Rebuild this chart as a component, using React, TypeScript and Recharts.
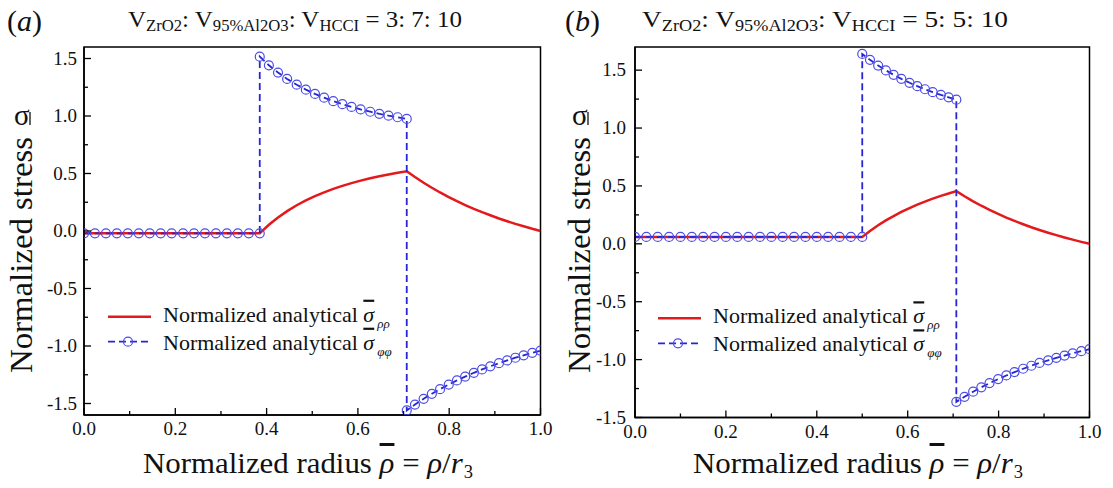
import React from "react"
import { LineChart, Line, XAxis, YAxis, ReferenceArea } from "recharts"

// panel (a): V_ZrO2 : V_95%Al2O3 : V_HCCI = 3 : 7 : 10
const rhoA = [
  0, 0.024, 0.048, 0.072, 0.096, 0.12, 0.144, 0.168, 0.192, 0.217, 0.241, 0.265, 0.289, 0.313, 0.337, 0.361, 0.385,
  0.385, 0.405, 0.425, 0.445, 0.466, 0.486, 0.506, 0.526, 0.546, 0.566, 0.586, 0.606, 0.627, 0.647, 0.667, 0.687, 0.707,
  0.707, 0.725, 0.744, 0.762, 0.78, 0.799, 0.817, 0.835, 0.854, 0.872, 0.89, 0.909, 0.927, 0.945, 0.963, 0.982, 1.0,
]
const sigmaRRA = [
  -0.02, -0.02, -0.02, -0.02, -0.02, -0.02, -0.02, -0.02, -0.02, -0.02, -0.02, -0.02, -0.02, -0.02, -0.02, -0.02, -0.02,
  -0.02, 0.054, 0.118, 0.173, 0.224, 0.266, 0.303, 0.336, 0.366, 0.392, 0.416, 0.438, 0.458, 0.476, 0.492, 0.507, 0.52,
  0.52, 0.469, 0.419, 0.376, 0.335, 0.295, 0.259, 0.226, 0.193, 0.164, 0.137, 0.109, 0.085, 0.062, 0.041, 0.019, 0,
]
const sigmaPPA = [
  -0.02, -0.02, -0.02, -0.02, -0.02, -0.02, -0.02, -0.02, -0.02, -0.02, -0.02, -0.02, -0.02, -0.02, -0.02, -0.02, -0.02,
  1.516, 1.441, 1.378, 1.322, 1.272, 1.229, 1.192, 1.159, 1.129, 1.103, 1.079, 1.057, 1.037, 1.019, 1.003, 0.989, 0.975,
  -1.56, -1.509, -1.459, -1.416, -1.375, -1.335, -1.299, -1.266, -1.233, -1.204, -1.177, -1.149, -1.125, -1.102, -1.081, -1.059, -1.04,
]

// panel (b): V_ZrO2 : V_95%Al2O3 : V_HCCI = 5 : 5 : 10
const rhoB = [
  0, 0.025, 0.05, 0.075, 0.1, 0.125, 0.15, 0.175, 0.2, 0.225, 0.25, 0.275, 0.3, 0.325, 0.35, 0.375, 0.4, 0.425, 0.45, 0.475, 0.5,
  0.5, 0.517, 0.535, 0.552, 0.569, 0.586, 0.604, 0.621, 0.638, 0.655, 0.673, 0.69, 0.707,
  0.707, 0.725, 0.744, 0.762, 0.78, 0.799, 0.817, 0.835, 0.854, 0.872, 0.89, 0.909, 0.927, 0.945, 0.963, 0.982, 1.0,
]
const sigmaRRB = [
  0.06, 0.06, 0.06, 0.06, 0.06, 0.06, 0.06, 0.06, 0.06, 0.06, 0.06, 0.06, 0.06, 0.06, 0.06, 0.06, 0.06, 0.06, 0.06, 0.06, 0.06,
  0.06, 0.111, 0.16, 0.202, 0.24, 0.275, 0.309, 0.338, 0.365, 0.39, 0.414, 0.435, 0.455,
  0.455, 0.411, 0.367, 0.329, 0.293, 0.258, 0.227, 0.198, 0.169, 0.143, 0.119, 0.096, 0.075, 0.055, 0.036, 0.017, 0,
]
const sigmaPPB = [
  0.06, 0.06, 0.06, 0.06, 0.06, 0.06, 0.06, 0.06, 0.06, 0.06, 0.06, 0.06, 0.06, 0.06, 0.06, 0.06, 0.06, 0.06, 0.06, 0.06, 0.06,
  1.64, 1.589, 1.54, 1.498, 1.46, 1.425, 1.391, 1.362, 1.335, 1.31, 1.286, 1.265, 1.245,
  -1.365, -1.321, -1.277, -1.239, -1.203, -1.168, -1.137, -1.108, -1.079, -1.053, -1.029, -1.006, -0.985, -0.965, -0.946, -0.927, -0.91,
]

const xMajor = [0, 0.2, 0.4, 0.6, 0.8, 1.0]
const xMinor = [0.1, 0.3, 0.5, 0.7, 0.9]
const yMajor = [-1.5, -1.0, -0.5, 0, 0.5, 1.0, 1.5]
const yMinor = [-1.25, -0.75, -0.25, 0.25, 0.75, 1.25]

const FONT = "Liberation Serif, Times New Roman, serif"
const RED = "#e3191c"
const BLUE = "#2626d4"
const MARK = "#4c4ce6"

const xTicks = [...xMajor, ...xMinor].sort((a, b) => a - b)
const yTicks = [...yMajor, ...yMinor].sort((a, b) => a - b)

const XTick = (props: any) => {
  const { x, y, payload } = props
  const major = xMajor.includes(payload.value)
  return (
    <g>
      <line x1={x} x2={x} y1={y} y2={y - (major ? 7 : 4)} stroke="#000" strokeWidth={1.3} />
      {major && (
        <text x={x} y={y + 20} textAnchor="middle" fontSize={19} fontFamily={FONT} fill="#111">
          {payload.value.toFixed(1)}
        </text>
      )}
    </g>
  )
}

const makeYTick = (gap: number) => (props: any) => {
  const { x, y, payload } = props
  const major = yMajor.includes(payload.value)
  return (
    <g>
      <line x1={x} x2={x + (major ? 7 : 4)} y1={y} y2={y} stroke="#000" strokeWidth={1.3} />
      {major && (
        <text x={x - gap} y={y + 6} textAnchor="end" fontSize={19} fontFamily={FONT} fill="#111">
          {payload.value.toFixed(1)}
        </text>
      )}
    </g>
  )
}

interface PanelProps {
  rho: number[]
  rr: number[]
  pp: number[]
  yDomain: [number, number]
  left: number
  width: number
  axisW: number
  axisH: number
  top: number
  right: number
  tickGap: number
}

function Panel({ rho, rr, pp, yDomain, left, width, axisW, axisH, top, right, tickGap }: PanelProps) {
  const data = rho.map((x, i) => ({ x, rr: rr[i], pp: pp[i] }))
  return (
    <div style={{ position: "absolute", left, top: 0 }}>
      <LineChart width={width} height={488} data={data} margin={{ top, right, bottom: 0, left: 0 }}>
        <XAxis
          dataKey="x"
          type="number"
          domain={[0, 1]}
          ticks={xTicks}
          interval={0}
          height={axisH}
          tickSize={0}
          tickMargin={0}
          tickLine={false}
          tick={XTick}
          axisLine={{ stroke: "#000", strokeWidth: 1.5 }}
          allowDataOverflow
        />
        <YAxis
          type="number"
          domain={yDomain}
          ticks={yTicks}
          interval={0}
          width={axisW}
          tickSize={0}
          tickMargin={0}
          tickLine={false}
          tick={makeYTick(tickGap)}
          axisLine={{ stroke: "#000", strokeWidth: 1.5 }}
          allowDataOverflow
        />
        <Line
          dataKey="rr"
          type="linear"
          stroke={RED}
          strokeWidth={2.5}
          dot={false}
          isAnimationActive={false}
        />
        <Line
          dataKey="pp"
          type="linear"
          stroke={BLUE}
          strokeWidth={1.8}
          strokeDasharray="7 4"
          dot={{ r: 4.5, stroke: MARK, strokeWidth: 1.2, fill: "none", strokeDasharray: "none" }}
          isAnimationActive={false}
        />
        <ReferenceArea
          x1={0}
          x2={1}
          y1={yDomain[0]}
          y2={yDomain[1]}
          fill="none"
          fillOpacity={0}
          stroke="#000"
          strokeWidth={1.5}
          ifOverflow="visible"
        />
      </LineChart>
    </div>
  )
}

function Legend2({ x, y }: { x: number; y: number }) {
  return (
    <g fontFamily={FONT} fill="#111">
      <line x1={x} x2={x + 43} y1={y} y2={y} stroke={RED} strokeWidth={2.5} />
      <text x={x + 55} y={y + 5} fontSize={22}>
        Normalized analytical{" "}
        <tspan fontStyle="italic" style={{ textDecoration: "overline" }}>σ</tspan>
        <tspan fontStyle="italic" fontSize={13} dx={3} dy={6}>ρρ</tspan>
      </text>
      <line x1={x} x2={x + 41} y1={y + 25} y2={y + 25} stroke={BLUE} strokeWidth={1.8} strokeDasharray="7 4" />
      <circle cx={x + 20} cy={y + 25} r={4.5} stroke={MARK} strokeWidth={1.2} fill="none" />
      <text x={x + 55} y={y + 33} fontSize={22}>
        Normalized analytical{" "}
        <tspan fontStyle="italic" style={{ textDecoration: "overline" }}>σ</tspan>
        <tspan fontStyle="italic" fontSize={13} dx={3} dy={6}>φφ</tspan>
      </text>
    </g>
  )
}

function Title({ x, y, len, ratio }: { x: number; y: number; len: number; ratio: string }) {
  return (
    <text x={x} y={y} fontSize={24} fontFamily={FONT} fill="#111" textLength={len} lengthAdjust="spacingAndGlyphs">
      V<tspan fontSize={16} dy={4}>ZrO2</tspan>
      <tspan dy={-4}>: V</tspan>
      <tspan fontSize={16} dy={4}>95%Al2O3</tspan>
      <tspan dy={-4}>: V</tspan>
      <tspan fontSize={16} dy={4}>HCCI</tspan>
      <tspan dy={-4}>{` = ${ratio}`}</tspan>
    </text>
  )
}

function XTitle({ x, len }: { x: number; len: number }) {
  return (
    <text x={x} y={473} fontSize={30} fontFamily={FONT} fill="#111" textLength={len} lengthAdjust="spacingAndGlyphs">
      Normalized radius <tspan fontStyle="italic" style={{ textDecoration: "overline" }}>ρ</tspan> ={" "}
      <tspan fontStyle="italic">ρ</tspan>/<tspan fontStyle="italic">r</tspan>
      <tspan fontSize={18} dx={1} dy={5}>3</tspan>
    </text>
  )
}

function YTitle({ x }: { x: number }) {
  return (
    <g fontFamily={FONT} fill="#111">
      <text transform={`translate(${x},373) rotate(-90)`} fontSize={31} textLength={236} lengthAdjust="spacingAndGlyphs">
        Normalized stress
      </text>
      <text x={x - 18} y={125} fontSize={29}>σ</text>
      <line x1={x - 2} x2={x - 2} y1={112} y2={125} stroke="#111" strokeWidth={1.3} />
    </g>
  )
}

export default function App() {
  return (
    <div style={{ position: "absolute", left: 0, top: 0, width: 1113, height: 488, background: "#fff" }}>
      <Panel
        rho={rhoA}
        rr={sigmaRRA}
        pp={sigmaPPA}
        yDomain={[-1.6, 1.6]}
        left={0}
        width={556}
        axisW={84}
        axisH={73}
        top={47}
        right={15.5}
        tickGap={7}
      />
      <Panel
        rho={rhoB}
        rr={sigmaRRB}
        pp={sigmaPPB}
        yDomain={[-1.5, 1.7]}
        left={556}
        width={557}
        axisW={79}
        axisH={70.5}
        top={47}
        right={23.5}
        tickGap={9}
      />
      <svg
        width={1113}
        height={488}
        style={{ position: "absolute", left: 0, top: 0, pointerEvents: "none" }}
      >
        <text x={7} y={31} fontSize={30} fontFamily={FONT} fill="#111">
          (<tspan fontStyle="italic">a</tspan>)
        </text>
        <text x={565} y={31} fontSize={30} fontFamily={FONT} fill="#111">
          (<tspan fontStyle="italic">b</tspan>)
        </text>
        <Title x={128} y={27} len={334} ratio="3: 7: 10" />
        <Title x={642} y={27} len={366} ratio="5: 5: 10" />
        <XTitle x={143} len={330} />
        <XTitle x={693} len={330} />
        <YTitle x={32} />
        <YTitle x={590} />
        <Legend2 x={108} y={316.7} />
        <Legend2 x={658} y={318.3} />
      </svg>
    </div>
  )
}
